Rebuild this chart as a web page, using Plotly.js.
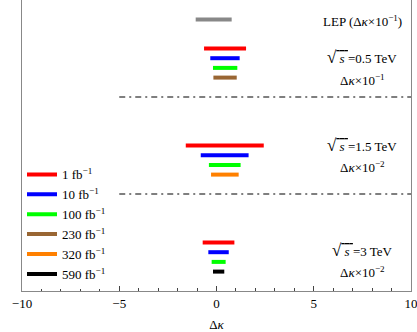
<!DOCTYPE html>
<html><head><meta charset="utf-8">
<script src="https://cdn.plot.ly/plotly-3.0.1.min.js"></script>
</head><body style="margin:0">
<div id="chart" style="width:417px;height:332px"></div>
<script>
// Row levels (vertical slots) for each energy group
const levels05 = [25, 24, 23, 22];
const levels15 = [15, 14, 13, 12];
const levels3  = [5, 4, 3, 2];
const levelLEP = 28;
const separatorLevels = [20, 10];
const separatorX = [-5, 10];

// Intervals of Δκ (low, high)
const lep = [-1.07, 0.78];
// per luminosity: [0.5 TeV, 1.5 TeV, 3 TeV]
const lum1   = {lo: [-0.64, -1.58, -0.71], hi: [1.52, 2.43, 0.92]};
const lum10  = {lo: [-0.32, -0.81, -0.42], hi: [1.19, 1.65, 0.63]};
const lum100 = {lo: [-0.18, -0.39, -0.25], hi: [1.07, 1.24, 0.47]};
const lum230 = {lo: [-0.16], hi: [1.04]};
const lum320 = {lo: [-0.28], hi: [1.14]};
const lum590 = {lo: [-0.18], hi: [0.40]};

const legendNames = ['1 fb<sup>−1</sup>', '10 fb<sup>−1</sup>', '100 fb<sup>−1</sup>', '230 fb<sup>−1</sup>', '320 fb<sup>−1</sup>', '590 fb<sup>−1</sup>'];
const colors = ['#ff0000', '#0000ff', '#00ff00', '#996633', '#ff8000', '#000000'];

function segs(lo, hi, ys) {
  const x = [], y = [];
  for (let i = 0; i < lo.length; i++) {
    x.push(lo[i], hi[i], null);
    y.push(ys[i], ys[i], null);
  }
  return {x, y};
}

const groups = [
  {d: lum1,   ys: [levels05[0], levels15[0], levels3[0]]},
  {d: lum10,  ys: [levels05[1], levels15[1], levels3[1]]},
  {d: lum100, ys: [levels05[2], levels15[2], levels3[2]]},
  {d: lum230, ys: [levels05[3]]},
  {d: lum320, ys: [levels15[3]]},
  {d: lum590, ys: [levels3[3]]}
];

const traces = groups.map((g, i) => {
  const s = segs(g.d.lo, g.d.hi, g.ys);
  return {x: s.x, y: s.y, mode: 'lines', name: legendNames[i],
    line: {color: colors[i], width: 4}};
});

traces.unshift({x: lep, y: [levelLEP, levelLEP], mode: 'lines', showlegend: false,
  line: {color: '#888888', width: 4}});

separatorLevels.forEach(lv => {
  traces.push({x: separatorX, y: [lv, lv], mode: 'lines', showlegend: false,
    line: {color: '#555555', width: 1.3, dash: '6px,4px,2px,4px'}});
});

const font = {family: 'Liberation Serif, Times New Roman, serif', size: 13, color: '#000'};
const sq = '<span style="font-size:17px">√</span><span style="text-decoration:overline">\u00a0<i>s</i>\u00a0</span>';
const dk = (p) => 'Δ<i>κ</i>×10<sup>−' + p + '</sup>';
const textX = 7.5;
const ann = [
  {y: 27.8, text: 'LEP (' + dk(1) + ')'},
  {y: 24.1, text: sq + '=0.5 TeV'},
  {y: 21.75, text: dk(1)},
  {y: 15.05, text: sq + '=1.5 TeV'},
  {y: 12.8, text: dk(2)},
  {y: 4.2, text: sq + '=3 TeV'},
  {y: 1.95, text: dk(2)}
].map(a => ({x: textX, y: a.y, text: a.text, showarrow: false, font: font}));

const layout = {
  width: 417, height: 332,
  margin: {l: 22, r: 6, t: 0, b: 41},
  font: font,
  showlegend: true,
  legend: {x: 0, y: 0.452, xanchor: 'left', yanchor: 'top'},
  xaxis: {range: [-10, 10], showgrid: false, zeroline: false, showline: true, mirror: true,
    linecolor: '#888', ticks: 'inside', ticklen: 5,
    tickmode: 'linear', tick0: -10, dtick: 5, ticklabeloverflow: 'allow',
    minor: {dtick: 1, ticks: 'inside', ticklen: 3, showgrid: false},
    tickfont: font,
    title: {text: 'Δ<i>κ</i>', font: font, standoff: 11}},
  yaxis: {range: [0, 30], showgrid: false, zeroline: false, showline: true, mirror: true,
    linecolor: '#888', ticks: '', showticklabels: false},
  annotations: ann
};

Plotly.newPlot('chart', traces, layout, {staticPlot: true});
</script>
</body></html>
